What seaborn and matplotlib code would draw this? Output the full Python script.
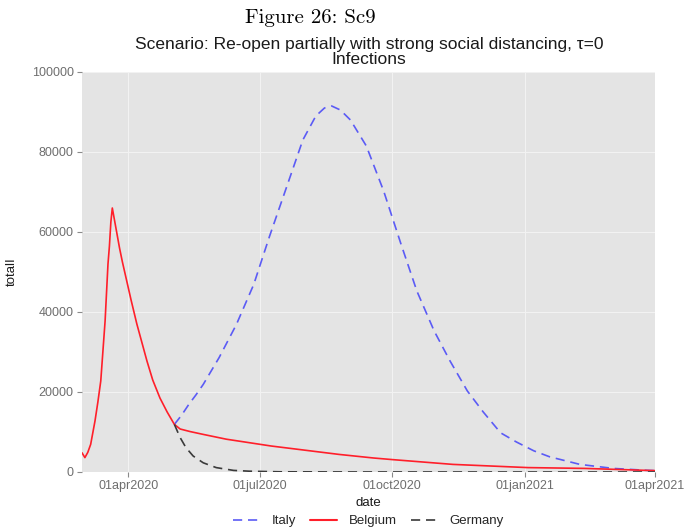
import matplotlib
matplotlib.use("Agg")
import matplotlib.pyplot as plt
import pandas as pd
import seaborn as sns

# Daily infections per country under scenario Sc9
belgium_dates = ["2020-02-29", "2020-03-02", "2020-03-04", "2020-03-06", "2020-03-09",
                 "2020-03-11", "2020-03-13", "2020-03-16", "2020-03-18", "2020-03-19",
                 "2020-03-20", "2020-03-21", "2020-03-22", "2020-03-24", "2020-03-26",
                 "2020-03-28", "2020-03-31", "2020-04-03", "2020-04-07", "2020-04-14",
                 "2020-04-18", "2020-04-23", "2020-04-28", "2020-05-03", "2020-05-07",
                 "2020-05-14", "2020-05-23", "2020-06-08", "2020-07-09", "2020-08-25",
                 "2020-09-18", "2020-10-01", "2020-11-12", "2021-01-03", "2021-02-11",
                 "2021-03-27", "2021-04-01"]
belgium_vals = [4800, 3600, 4900, 6900, 12750,
                17500, 22750, 37750, 52000, 56500,
                62500, 66000, 64000, 60000, 56000,
                52500, 47750, 43000, 37000, 27750,
                23000, 18500, 15000, 11900, 10750,
                10100, 9400, 8200, 6500, 4400,
                3500, 3100, 1900, 1100, 900,
                400, 350]

italy_dates = ["2020-05-03", "2020-05-08", "2020-05-13", "2020-05-18", "2020-05-23",
               "2020-06-03", "2020-06-15", "2020-06-27", "2020-07-08", "2020-07-20",
               "2020-07-31", "2020-08-09", "2020-08-15", "2020-08-20", "2020-08-26",
               "2020-09-02", "2020-09-13", "2020-09-25", "2020-10-07", "2020-10-18",
               "2020-10-30", "2020-11-10", "2020-11-22", "2020-12-03", "2020-12-15",
               "2020-12-26", "2021-01-07", "2021-01-18", "2021-02-08", "2021-03-03",
               "2021-03-27", "2021-04-01"]
italy_vals = [11900, 14200, 16900, 19300, 21900,
              28600, 36900, 46900, 59000, 71500,
              83000, 89000, 91000, 91500, 90500,
              88000, 81500, 70250, 57000, 45250,
              35250, 27750, 20250, 15000, 9800,
              7500, 5300, 3800, 1900, 900,
              400, 350]

germany_dates = ["2020-05-03", "2020-05-07", "2020-05-11", "2020-05-16", "2020-05-23",
                 "2020-06-01", "2020-06-13", "2020-06-24", "2020-07-15", "2020-09-01",
                 "2020-12-01", "2021-04-01"]
germany_vals = [11900, 8600, 6100, 4000, 2300,
                1100, 400, 200, 50, 10,
                0, 0]

countries = ["Italy", "Belgium", "Germany"]
colors = {"Italy": "#5b5bf5", "Belgium": "#ff1f2a", "Germany": "#3a3a3a"}

x_ticks = ["2020-04-01", "2020-07-01", "2020-10-01", "2021-01-01", "2021-04-01"]
x_tick_labels = ["01apr2020", "01jul2020", "01oct2020", "01jan2021", "01apr2021"]
y_ticks = [0, 20000, 40000, 60000, 80000, 100000]

frames = []
for name, d, v in [("Italy", italy_dates, italy_vals),
                   ("Belgium", belgium_dates, belgium_vals),
                   ("Germany", germany_dates, germany_vals)]:
    frames.append(pd.DataFrame({"date": pd.to_datetime(d), "totalI": v, "country": name}))
df = pd.concat(frames, ignore_index=True)

sns.set_theme(style="white")
plt.rcParams["font.family"] = ["Liberation Sans", "DejaVu Sans"]

fig = plt.figure(figsize=(6.84, 5.31), dpi=100)
ax = fig.add_axes([82 / 684, 1 - 472 / 531, (655 - 82) / 684, 400 / 531])
ax.set_facecolor("#e4e4e4")

dash = (5.5, 3.5)
sns.lineplot(data=df, x="date", y="totalI", hue="country", style="country",
             hue_order=countries, style_order=countries, palette=colors,
             dashes={"Italy": dash, "Belgium": "", "Germany": dash},
             estimator=None, ax=ax, legend=True)
for line in ax.get_lines():
    lab = line.get_label()
    line.set_linewidth(1.5 if lab == "Belgium" else 1.2)

ax.set_xlim(pd.Timestamp("2020-02-29"), pd.Timestamp("2021-04-01"))
ax.set_ylim(0, 100000)
ax.set_xticks(pd.to_datetime(x_ticks))
ax.set_xticklabels(x_tick_labels)
ax.set_yticks(y_ticks)
ax.set_yticklabels([str(v) for v in y_ticks])

ax.grid(True, color="#f3f3f3", linewidth=0.7)
ax.set_axisbelow(True)
for s in ax.spines.values():
    s.set_visible(False)
ax.tick_params(axis="both", length=3.5, width=0.8, color="#8a8a8a",
               labelcolor="#6e6e6e", labelsize=9, pad=2.5, direction="out",
               bottom=True, left=True)

ax.set_xlabel("date", fontsize=9.5, color="#1a1a1a")
ax.xaxis.set_label_coords(0.5, (472 - 503) / 400)
ax.xaxis.label.set_va("center")
ax.set_ylabel("totalI", fontsize=9.5, color="#1a1a1a")
ax.yaxis.set_label_coords((12 - 82) / 573, 0.5)
ax.yaxis.label.set_va("center")

handles, labels = ax.get_legend_handles_labels()
ax.legend(handles, labels, loc="center", bbox_to_anchor=(0.5, (472 - 521) / 400),
          ncol=3, frameon=False, fontsize=9.5, handlelength=2.0,
          columnspacing=1.1, handletextpad=0.9)

fig.text(310 / 684, 1 - 18 / 531, "Figure 26: Sc9", family="cmr10",
         fontsize=15, ha="center", va="center", color="black")
fig.text(369 / 684, 1 - 44 / 531,
         "Scenario: Re-open partially with strong social distancing, τ=0",
         fontsize=12.5, ha="center", va="center", color="#1a1a1a")
fig.text(369 / 684, 1 - 60 / 531, "Infections",
         fontsize=12.5, ha="center", va="center", color="#1a1a1a")

fig.savefig("out.png", dpi=100, facecolor="white")
